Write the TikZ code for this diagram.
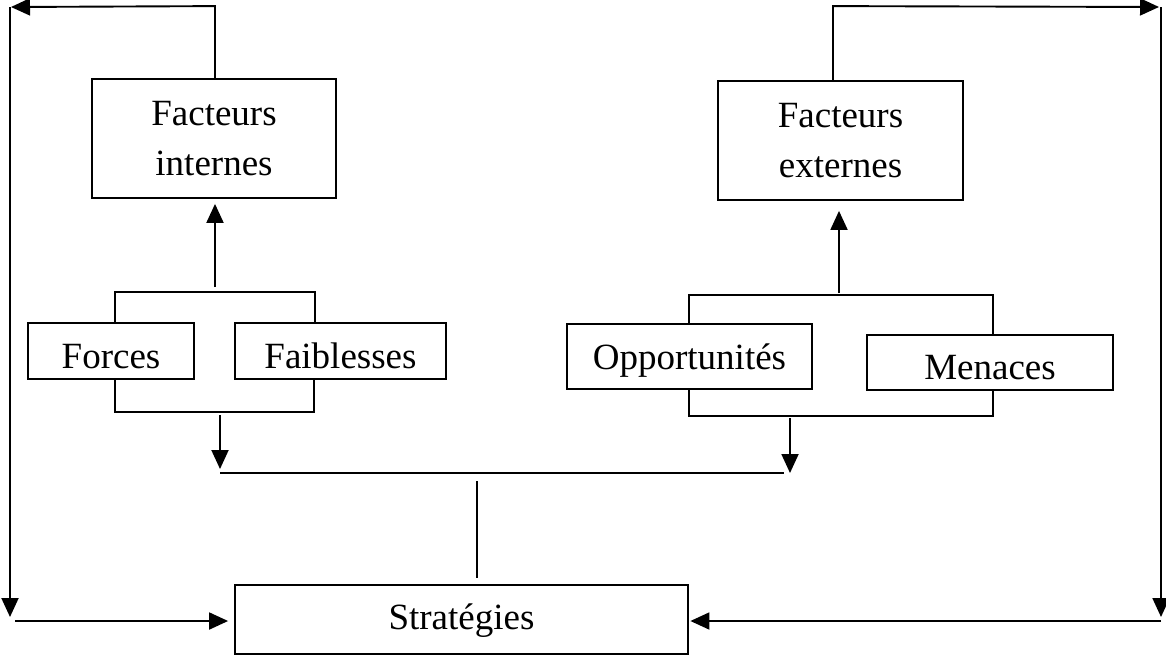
\documentclass[tikz,border=0pt]{standalone}
\usepackage{fontspec}
\setmainfont{Liberation Serif}
\usetikzlibrary{arrows.meta}
\begin{document}
\begin{tikzpicture}[x=1pt,y=-1pt,
  box/.style={draw, line width=1.8pt, rectangle, inner sep=0pt, font=\fontsize{37}{50}\selectfont},
  ln/.style={line width=1.9pt},
  arr/.style={line width=1.9pt, -{Triangle[length=19pt,width=17pt]}}]
\useasboundingbox (0,0) rectangle (1166,656);

% boxes
\node[box, minimum width=244pt, minimum height=119pt, align=center] (fi) at (214,138.5) {Facteurs\\internes};
\node[box, minimum width=245pt, minimum height=119pt, align=center] (fe) at (840.5,140.5) {Facteurs\\externes};
\node[box, minimum width=166pt, minimum height=56pt, text height=34pt, text depth=0pt] (fo) at (111,351) {Forces};
\node[box, minimum width=211pt, minimum height=56pt, text height=34pt, text depth=0pt] (fa) at (340.5,351) {Faiblesses};
\node[box, minimum width=245pt, minimum height=65pt, text height=33pt, text depth=8pt] (op) at (689.5,356.5) {Opportunités};
\node[box, minimum width=246pt, minimum height=55pt, text height=33pt, text depth=0pt] (me) at (990,362.5) {Menaces};
\node[box, minimum width=453pt, minimum height=69pt, text height=27pt, text depth=8pt] (st) at (461.5,619.5) {Stratégies};

% free ends
\coordinate (lu) at (215,287);
\coordinate (ld) at (220,415);
\coordinate (ldt) at (220,469);
\coordinate (hl) at (220,473);
\coordinate (hr) at (784,473);
\coordinate (rd) at (790,418);
\coordinate (rdt) at (790,473);
\coordinate (ru) at (839,293);
\coordinate (vm) at (477,481);
\coordinate (tl) at (11,7);
\coordinate (tlv) at (10,7);
\coordinate (bl) at (10,617);
\coordinate (bl2) at (15,621);
\coordinate (tr) at (1159,7);
\coordinate (trv) at (1161,7);
\coordinate (br) at (1161,617);
\coordinate (br2) at (1161,621);

% brackets left
\draw[ln] ([xshift=4pt]fo.north) -- ++(0,-30) -| ([xshift=-25.5pt]fa.north);
\draw[ln] ([xshift=4pt]fo.south) -- ++(0,32) -| ([xshift=-26.5pt]fa.south);
% brackets right
\draw[ln] ([xshift=-0.5pt]op.north) -- ++(0,-28) -| ([xshift=3pt]me.north);
\draw[ln] ([xshift=-0.5pt]op.south) -- ++(0,26) -| ([xshift=3pt]me.south);

% up arrows to factor boxes
\draw[arr, shorten >=5pt] (lu) -- (lu |- fi.south);
\draw[arr, shorten >=10pt] (ru) -- (ru |- fe.south);

% down arrows to the joining line
\draw[arr] (ld) -- (ldt);
\draw[arr] (rd) -- (rdt);
\draw[ln] (hl) -- (hr);
\draw[ln, shorten >=6pt] (vm) -- (vm |- st.north);

% feedback loops
\draw[arr] ([xshift=1pt]fi.north) -- ++(0,-72) -- (tl);
\draw[arr] (tlv) -- (bl);
\draw[arr, shorten >=6pt] (bl2) -- (bl2 -| st.west);
\draw[arr] ([xshift=-7.5pt]fe.north) -- ++(0,-74) -- (tr);
\draw[arr] (trv) -- (br);
\draw[arr, shorten >=1.5pt] (br2) -- (br2 -| st.east);
\end{tikzpicture}
\end{document}
